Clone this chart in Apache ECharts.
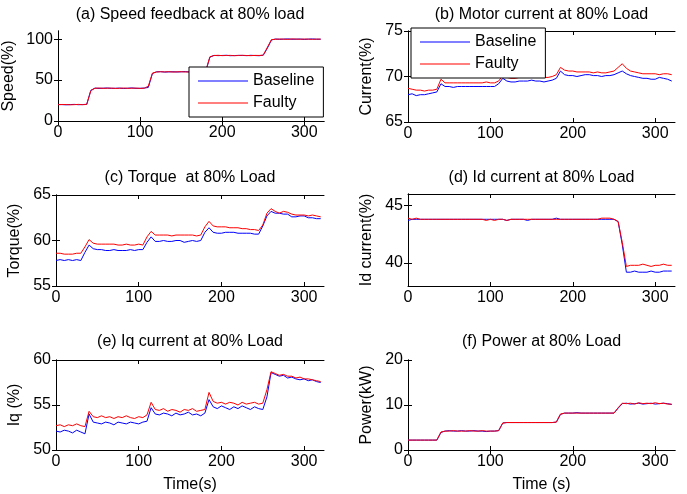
<!DOCTYPE html>
<html>
<head>
<meta charset="utf-8">
<script src="https://cdn.jsdelivr.net/npm/echarts@6/dist/echarts.min.js"></script>
<style>
  html, body { margin: 0; padding: 0; background: #fff; }
  #chart { width: 687px; height: 494px; }
</style>
</head>
<body>
<div id="chart"></div>
<script>
// time axis (s)
const time = [0, 5, 10, 15, 20, 25, 30, 35, 40, 45, 50, 55, 60, 65, 70, 75, 80, 85, 90, 95,
  100, 105, 110, 115, 120, 125, 130, 135, 140, 145, 150, 155, 160, 165, 170, 175, 180, 185, 190, 195,
  200, 205, 210, 215, 220, 225, 230, 235, 240, 245, 250, 255, 260, 265, 270, 275, 280, 285, 290, 295,
  300, 305, 310, 315, 320]

// (a) speed
const speedBase = [20.2, 20.0, 19.8, 20.1, 20.3, 19.9, 20.1, 20.4,
  37.5,
  40.2, 39.8, 40.1, 40.3, 39.9, 40.0, 40.2, 39.7, 40.1, 40.4, 39.9, 40.0, 40.2, 41.0,
  58.0,
  60.1, 60.3, 59.8, 60.0, 60.2, 59.9, 60.1, 60.4, 59.8, 60.0, 60.2, 60.1, 61.0,
  78.0,
  80.2, 79.9, 80.1, 80.3, 79.8, 80.0, 80.2, 80.1, 79.9, 80.3, 80.0, 79.8, 80.4,
  89.0, 99.0,
  100.2, 99.8, 100.1, 100.3, 99.9, 100.0, 100.2, 99.7, 100.1, 100.3, 99.9, 100.0]
const speedFault = [19.9, 20.2, 20.1, 19.8, 20.0, 20.3, 19.9, 20.3,
  37.0,
  40.0, 40.3, 39.9, 40.1, 40.2, 39.8, 40.0, 40.3, 39.9, 40.1, 40.2, 39.8, 40.1, 42.5,
  58.5,
  59.9, 60.2, 60.0, 60.3, 59.8, 60.1, 60.2, 59.9, 60.1, 60.3, 59.9, 60.0, 61.0,
  78.5,
  80.0, 80.3, 79.9, 80.1, 80.2, 79.8, 80.1, 80.3, 80.0, 79.9, 80.2, 80.1, 80.5,
  90.0, 99.5,
  99.9, 100.2, 100.0, 99.8, 100.3, 100.1, 99.9, 100.2, 100.0, 99.8, 100.1, 100.0]

// (b) motor current
const curBase = [68.0, 68.1, 67.9, 68.0, 68.0, 68.1, 68.2, 68.3,
  69.2,
  68.9, 68.9, 68.8, 68.9, 68.9, 68.9, 68.9, 68.9, 68.9, 68.9, 68.9, 68.9, 68.9, 69.2,
  69.8,
  69.5, 69.4, 69.4, 69.5, 69.5, 69.5, 69.6, 69.5, 69.5, 69.4, 69.5, 69.6, 69.8,
  70.6,
  70.2, 70.1, 70.1, 70.0, 70.1, 70.2, 70.2, 70.1, 70.1, 70.0, 70.1, 70.1, 70.2,
  70.4, 70.6,
  70.3, 70.1, 70.0, 69.9, 69.8, 69.8, 69.7, 69.7, 69.9, 69.8, 69.7, 69.5]
const curFault = [68.7, 68.6, 68.5, 68.5, 68.4, 68.5, 68.5, 68.6,
  69.7,
  69.3, 69.3, 69.3, 69.3, 69.3, 69.3, 69.3, 69.3, 69.3, 69.3, 69.4, 69.3, 69.3, 69.5,
  70.1,
  69.9, 69.8, 69.8, 69.9, 69.9, 69.9, 69.9, 69.9, 69.9, 69.9, 69.9, 70.0, 70.2,
  71.0,
  70.7, 70.6, 70.6, 70.5, 70.5, 70.5, 70.5, 70.4, 70.5, 70.4, 70.4, 70.5, 70.6,
  71.0, 71.4,
  70.9, 70.6, 70.5, 70.4, 70.3, 70.3, 70.3, 70.3, 70.2, 70.3, 70.3, 70.2]

// (c) torque
const torqueBase = [57.8, 57.9, 57.8, 57.9, 57.8, 57.9, 57.8,
  58.7, 59.5,
  59.1, 59.0, 59.0, 58.9, 58.9, 59.0, 58.9, 58.9, 58.9, 59.0, 58.9, 59.0, 59.0,
  59.8, 60.4,
  59.9, 59.9, 60.0, 59.9, 59.9, 60.0, 60.0, 59.8, 59.9, 60.0, 59.9, 60.0,
  60.9, 61.4,
  60.9, 60.8, 60.8, 60.9, 60.9, 60.9, 60.8, 60.8, 60.8, 60.8, 60.7, 60.7,
  61.6, 62.7, 63.2,
  63.0, 63.0, 62.9, 62.9, 62.6, 62.6, 62.7, 62.7, 62.5, 62.5, 62.4, 62.4]
const torqueFault = [58.6, 58.6, 58.5, 58.5, 58.5, 58.6, 58.6,
  59.3, 60.1,
  59.7, 59.6, 59.6, 59.6, 59.6, 59.6, 59.5, 59.5, 59.6, 59.5, 59.5, 59.6, 59.5,
  60.4, 61.0,
  60.6, 60.6, 60.6, 60.6, 60.5, 60.6, 60.6, 60.6, 60.6, 60.6, 60.5, 60.6,
  61.5, 62.1,
  61.6, 61.5, 61.5, 61.5, 61.4, 61.4, 61.4, 61.3, 61.3, 61.2, 61.2, 61.1,
  61.7, 63.0, 63.5,
  63.2, 63.0, 63.2, 63.1, 62.9, 62.8, 62.8, 62.8, 62.7, 62.8, 62.7, 62.6]

// (d) Id current
const idBase = [43.7, 43.8, 43.8, 43.8, 43.8, 43.8, 43.8, 43.8, 43.8, 43.8, 43.8, 43.8, 43.8,
  43.8, 43.8, 43.8, 43.8, 43.8, 43.8, 43.8, 43.8, 43.8, 43.8, 43.8, 43.7, 43.8,
  43.8, 43.8, 43.8, 43.7, 43.8, 43.8, 43.8, 43.8, 43.8, 43.8, 43.9, 43.8, 43.8,
  43.8, 43.8, 43.8, 43.8, 43.8, 43.8, 43.8, 43.8, 43.8, 43.8, 43.8, 43.8, 43.6,
  41.6,
  39.2, 39.2, 39.3, 39.2, 39.2, 39.2, 39.3, 39.2, 39.2, 39.3, 39.3, 39.3]
const idFault = [43.9, 43.8, 43.9, 43.8, 43.8, 43.8, 43.8, 43.8, 43.8, 43.8, 43.8, 43.8, 43.8,
  43.8, 43.8, 43.8, 43.8, 43.8, 43.8, 43.7, 43.8, 43.7, 43.8, 43.8, 43.7, 43.8,
  43.8, 43.8, 43.8, 43.8, 43.8, 43.8, 43.8, 43.8, 43.8, 43.8, 43.8, 43.8, 43.8,
  43.8, 43.8, 43.8, 43.8, 43.8, 43.8, 43.8, 43.8, 43.9, 43.9, 43.9, 43.8, 43.6,
  41.8,
  39.7, 39.8, 39.8, 39.8, 39.9, 39.8, 39.7, 39.8, 39.8, 39.9, 39.8, 39.8]

// (e) Iq current
const iqBase = [52.1, 52.0, 52.2, 52.1, 51.9, 52.2, 52.0, 51.8,
  54.0,
  53.1, 53.0, 52.9, 53.1, 53.0, 52.8, 53.1, 53.0, 52.9, 53.1, 53.0, 52.9, 53.1,
  53.2, 54.7,
  54.0, 53.9, 54.1, 54.0, 53.8, 54.1, 53.9, 54.0, 54.2, 53.9, 54.0, 53.8, 54.1,
  55.6,
  54.8, 54.6, 54.9, 54.7, 54.5, 54.8, 54.6, 54.9, 54.7, 54.5, 54.8, 54.6, 54.5,
  55.9, 58.6,
  58.4, 58.2, 58.3, 58.0, 58.1, 57.9, 57.8, 57.9, 57.7, 57.8, 57.6, 57.5]
const iqFault = [52.7, 52.8, 52.6, 52.8, 52.7, 52.9, 52.7, 52.6,
  54.3,
  53.7, 53.6, 53.8, 53.6, 53.7, 53.5, 53.7, 53.6, 53.8, 53.6, 53.5, 53.7, 53.6,
  53.9, 55.3,
  54.5, 54.4, 54.6, 54.3, 54.5, 54.4, 54.2, 54.5, 54.4, 54.6, 54.3, 54.4, 54.5,
  56.4,
  55.4, 55.2, 55.3, 55.1, 55.3, 55.2, 55.0, 55.3, 55.1, 55.2, 55.3, 55.1, 55.2,
  56.7, 58.7,
  58.5, 58.3, 58.4, 58.2, 58.2, 58.0, 58.1, 57.9, 57.9, 57.8, 57.7, 57.6]

// (f) power (kW)
const powerBase = [2.2, 2.2, 2.2, 2.2, 2.2, 2.2, 2.2, 2.2,
  3.9,
  4.2, 4.3, 4.2, 4.2, 4.3, 4.2, 4.2, 4.3, 4.2, 4.2, 4.1, 4.2, 4.2, 4.3,
  6.0,
  6.1, 6.1, 6.1, 6.1, 6.1, 6.1, 6.1, 6.1, 6.1, 6.1, 6.1, 6.1, 6.2,
  7.9,
  8.2, 8.2, 8.2, 8.3, 8.2, 8.2, 8.2, 8.2, 8.2, 8.2, 8.2, 8.2, 8.2,
  9.3, 10.3,
  10.4, 10.2, 10.3, 10.4, 10.2, 10.3, 10.4, 10.2, 10.3, 10.4, 10.3, 10.1]
const powerFault = [2.2, 2.2, 2.2, 2.2, 2.2, 2.2, 2.2, 2.2,
  4.0,
  4.2, 4.2, 4.3, 4.2, 4.2, 4.2, 4.3, 4.2, 4.2, 4.3, 4.2, 4.2, 4.2, 4.3,
  6.0,
  6.1, 6.1, 6.1, 6.1, 6.1, 6.1, 6.1, 6.1, 6.1, 6.1, 6.1, 6.1, 6.2,
  8.0,
  8.2, 8.2, 8.2, 8.2, 8.2, 8.2, 8.2, 8.2, 8.2, 8.2, 8.2, 8.2, 8.2,
  9.4, 10.4,
  10.3, 10.4, 10.2, 10.5, 10.3, 10.4, 10.3, 10.5, 10.3, 10.4, 10.2, 10.2]

const titles = ['(a) Speed feedback at 80% load', '(b) Motor current at 80% Load',
  '(c) Torque  at 80% Load', '(d) Id current at 80% Load',
  '(e) Iq current at 80% Load', '(f) Power at 80% Load']
const yNames = ['Speed(%)', 'Current(%)', 'Torque(%)', 'Id current(%)', 'Iq (%)', 'Power(kW)']
const xNames = ['', '', '', '', 'Time(s)', 'Time (s)']
const yRanges = [[0, 110], [65, 75], [55, 65], [38, 46], [50, 60], [0, 20]]
const yTicks = [[0, 50, 100], [65, 70, 75], [55, 60, 65], [40, 45], [50, 55, 60], [0, 10, 20]]
const xTicks = [0, 100, 200, 300]
const baseSets = [speedBase, curBase, torqueBase, idBase, iqBase, powerBase]
const faultSets = [speedFault, curFault, torqueFault, idFault, iqFault, powerFault]

const FONT = 'Liberation Sans, Arial, sans-serif'
const X_MAX = 324
const grids = [
  { left: 56, top: 31, width: 268, height: 90 },
  { left: 408, top: 31, width: 267, height: 91 },
  { left: 56, top: 195, width: 268, height: 91 },
  { left: 408, top: 194, width: 267, height: 92 },
  { left: 56, top: 360, width: 268, height: 91 },
  { left: 408, top: 360, width: 267, height: 90 }
]
const yGaps = [41, 33, 33, 33, 33, 33]
const titleTops = [7, 7, 170, 170, 334, 334]

const pairs = (vals) => time.map((t, i) => [t, vals[i]])

const xAxes = []
const yAxes = []
const series = []
const titleList = []
const lineAxis = { show: true, lineStyle: { color: '#000', width: 1 } }
const tick = { inside: true, length: 4, lineStyle: { color: '#000' } }
const txt = { color: '#000', fontSize: 16, fontFamily: FONT }

grids.forEach((g, i) => {
  xAxes.push({
    type: 'value', gridIndex: i, min: 0, max: X_MAX, position: 'bottom',
    axisLine: lineAxis, splitLine: { show: false },
    axisTick: Object.assign({ customValues: xTicks }, tick),
    axisLabel: Object.assign({ customValues: xTicks, margin: 4 }, txt),
    name: xNames[i], nameLocation: 'middle', nameGap: 27, nameTextStyle: txt
  })
  yAxes.push({
    type: 'value', gridIndex: i, min: yRanges[i][0], max: yRanges[i][1], position: 'left',
    axisLine: lineAxis, splitLine: { show: false },
    axisTick: Object.assign({ customValues: yTicks[i] }, tick),
    axisLabel: Object.assign({ customValues: yTicks[i], margin: 5 }, txt),
    name: yNames[i], nameLocation: 'middle', nameGap: yGaps[i], nameTextStyle: txt
  })
  titleList.push({
    text: titles[i], left: g.left + g.width / 2, top: titleTops[i], textAlign: 'center', padding: 0,
    textStyle: Object.assign({ fontWeight: 'normal' }, txt)
  })
  series.push({
    name: 'Baseline', type: 'line', xAxisIndex: i, yAxisIndex: i, symbol: 'none',
    color: '#0000ff', lineStyle: { width: 1, color: '#0000ff' }, data: pairs(baseSets[i])
  })
  series.push({
    name: 'Faulty', type: 'line', xAxisIndex: i, yAxisIndex: i, symbol: 'none',
    color: '#ff0000', lineStyle: { width: 1, color: '#ff0000' }, data: pairs(faultSets[i])
  })
})
// box ticks on top and right side
grids.forEach((g, i) => {
  xAxes.push({
    type: 'value', gridIndex: i, min: 0, max: X_MAX, position: 'top',
    axisLine: lineAxis, splitLine: { show: false },
    axisTick: Object.assign({ customValues: xTicks }, tick),
    axisLabel: { show: false }
  })
  yAxes.push({
    type: 'value', gridIndex: i, min: yRanges[i][0], max: yRanges[i][1], position: 'right',
    axisLine: lineAxis, splitLine: { show: false },
    axisTick: Object.assign({ customValues: yTicks[i] }, tick),
    axisLabel: { show: false }
  })
})

const legendBase = {
  data: ['Baseline', 'Faulty'], orient: 'vertical',
  icon: 'path://M0,0L50,0L50,1L0,1Z', symbolKeepAspect: true,
  itemWidth: 50, itemHeight: 14, itemGap: 6,
  backgroundColor: '#fff', borderColor: '#000', borderWidth: 1, borderRadius: 0,
  padding: [6, 9, 6, 9],
  textStyle: txt
}

const option = {
  animation: false,
  backgroundColor: '#fff',
  title: titleList,
  grid: grids,
  xAxis: xAxes,
  yAxis: yAxes,
  legend: [
    Object.assign({ left: 189, top: 67 }, legendBase),
    Object.assign({ left: 411, top: 28 }, legendBase)
  ],
  series
}

var myChart = echarts.init(document.querySelector('#chart'))
myChart.setOption(option)
window.onresize = () => {
  myChart.resize()
}
</script>
</body>
</html>
